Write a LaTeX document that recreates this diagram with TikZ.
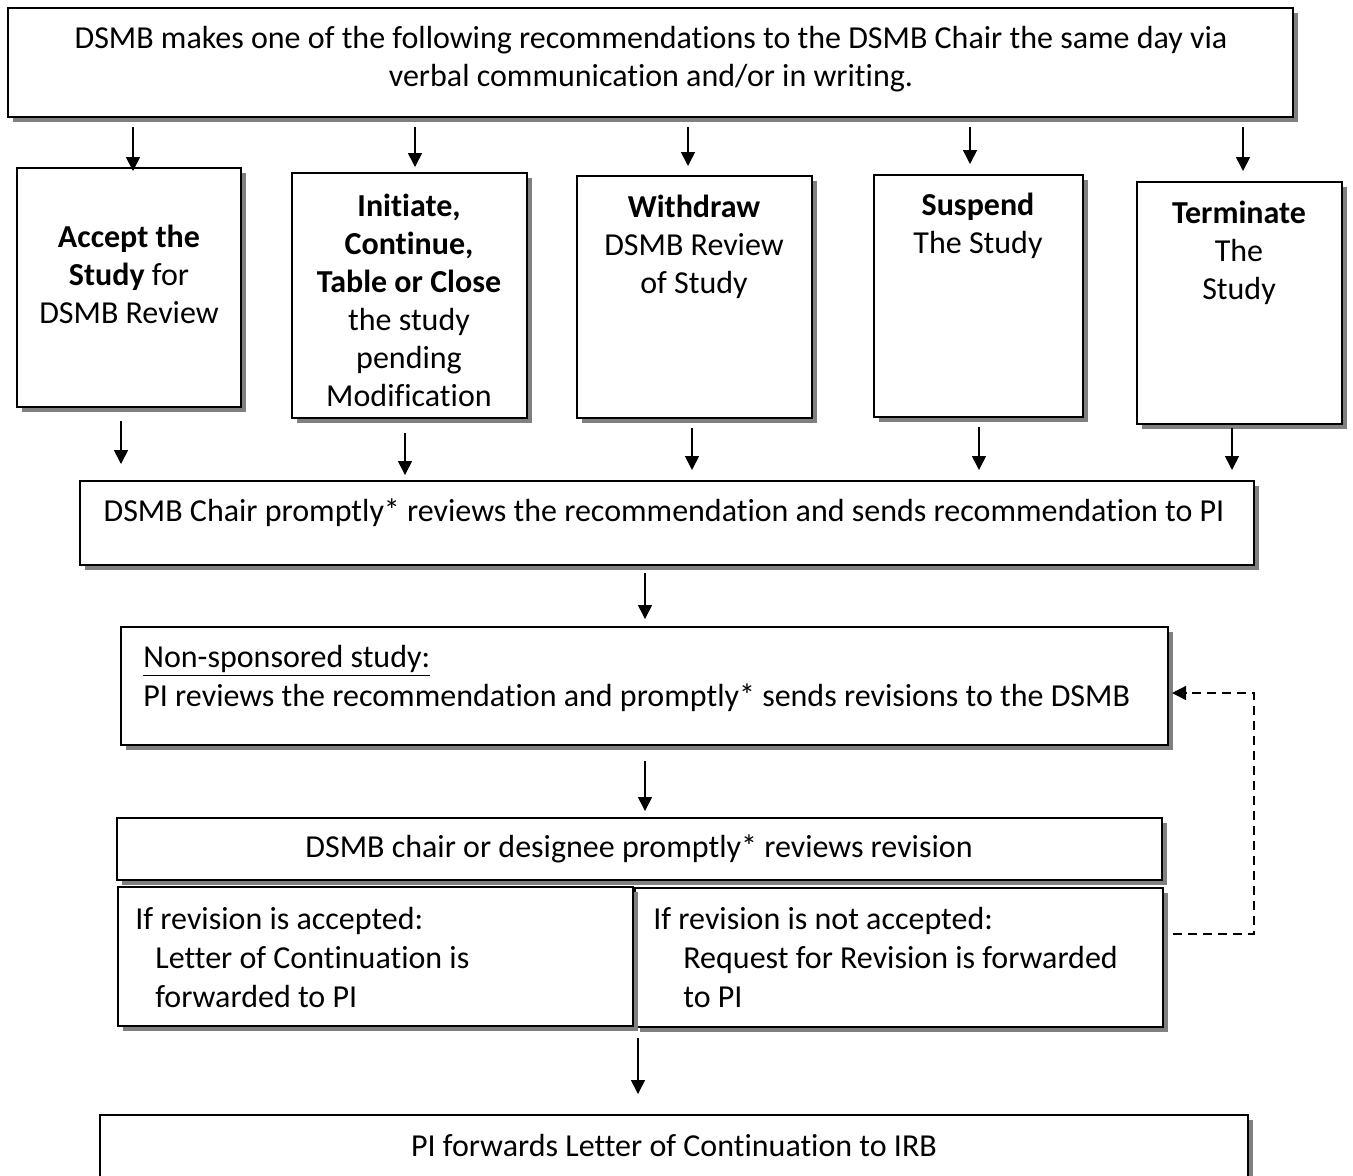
\documentclass[tikz,border=0pt]{standalone}
\usepackage{fontspec}
\setmainfont{Carlito}[Ligatures=NoCommon]
\usetikzlibrary{shadows,fit,arrows.meta}
\begin{document}
\begin{tikzpicture}[x=0.5pt,y=-0.5pt,
  box/.style={draw=black, line width=1pt, fill=white, inner sep=0pt,
    drop shadow={shadow xshift=2.6pt, shadow yshift=-2.6pt, fill=black!50, opacity=1}},
  txt/.style={inner sep=0pt, font=\fontsize{16}{19}\selectfont, align=center},
  ltxt/.style={inner sep=0pt, font=\fontsize{16}{19.5}\selectfont, align=left, anchor=west},
  arr/.style={line width=0.8pt, -{Triangle[length=7pt,width=7pt]}},
  darr/.style={line width=0.75pt, dash pattern=on 4.5pt off 3pt, -{Triangle[length=7pt,width=7pt]}}]
\clip (0,0) rectangle (1353,1175);
\fill[white] (0,0) rectangle (1353,1175);
% boxes
\node[box, fit={(8,8) (1293,117)}] (top) {};
\node[box, fit={(17,168) (241,407)}] (b1) {};
\node[box, fit={(292,173) (527,418)}] (b2) {};
\node[box, fit={(577,176) (812,418)}] (b3) {};
\node[box, fit={(874,175) (1083,417)}] (b4) {};
\node[box, fit={(1137,182) (1342,424)}] (b5) {};
\node[box, fit={(80,481) (1254,565)}] (chair) {};
\node[box, fit={(121,627) (1168,745)}] (nons) {};
\node[box, fit={(117,818) (1162,880)}] (desig) {};
\node[box, fit={(635,888) (1163,1027)}] (nacc) {};
\node[box, fit={(118,887) (633,1026)}] (acc) {};
\node[box, fit={(100,1115) (1248,1195)}] (fwd) {};
% texts
\node[txt] (ttop) at (651,59) {DSMB makes one of the following recommendations to the DSMB Chair the same day via\\verbal communication and/or in writing.};
\node[txt] (t1) at (129,274) {\textbf{Accept the}\\\textbf{Study} for\\DSMB Review};
\node[txt] (t2) at (409,300) {\textbf{Initiate,}\\\textbf{Continue,}\\\textbf{Table or Close}\\the study\\pending\\Modification};
\node[txt] (t3) at (694,247) {\textbf{Withdraw}\\DSMB Review\\of Study};
\node[txt] (t4) at (978,226) {\textbf{Suspend}\\The Study};
\node[txt] (t5) at (1239,253) {\textbf{Terminate}\\The\\Study};
\node[txt] (tchair) at (664,513) {DSMB Chair promptly* reviews the recommendation and sends recommendation to PI};
\node[ltxt] (tnons) at (143,678) {\underline{Non-sponsored study:}\\PI reviews the recommendation and promptly* sends revisions to the DSMB};
\node[txt] (tdesig) at (639,849) {DSMB chair or designee promptly* reviews revision};
\node[ltxt] (tacc) at (135,957) {If revision is accepted:\\\hspace*{10pt}Letter of Continuation is\\\hspace*{10pt}forwarded to PI};
\node[ltxt] (tnacc) at (653,957) {If revision is not accepted:\\\hspace*{15pt}Request for Revision is forwarded\\\hspace*{15pt}to PI};
\node[txt] (tfwd) at (674,1145) {PI forwards Letter of Continuation to IRB};
% x positions
\coordinate (x1) at (133,0);
\coordinate (x2) at (415,0);
\coordinate (x3) at (688,0);
\coordinate (x4) at (970,0);
\coordinate (x5) at (1243,0);
\coordinate (y1) at (121,0);
\coordinate (y2) at (405,0);
\coordinate (y3) at (692,0);
\coordinate (y4) at (979,0);
\coordinate (y5) at (1232,0);
\coordinate (xm) at (645,0);
\coordinate (xb) at (638,0);
% arrows top -> boxes
\draw[arr, shorten <=4.5pt, shorten >=-2pt] (x1 |- top.south) -- (x1 |- b1.north);
\draw[arr, shorten <=4.5pt, shorten >=2.5pt] (x2 |- top.south) -- (x2 |- b2.north);
\draw[arr, shorten <=4.5pt, shorten >=4.5pt] (x3 |- top.south) -- (x3 |- b3.north);
\draw[arr, shorten <=4.5pt, shorten >=5pt] (x4 |- top.south) -- (x4 |- b4.north);
\draw[arr, shorten <=4.5pt, shorten >=5pt] (x5 |- top.south) -- (x5 |- b5.north);
% boxes -> chair
\draw[arr, shorten <=6.5pt, shorten >=8pt] (y1 |- b1.south) -- (y1 |- chair.north);
\draw[arr, shorten <=7pt, shorten >=2.5pt] (y2 |- b2.south) -- (y2 |- chair.north);
\draw[arr, shorten <=4.5pt, shorten >=5pt] (y3 |- b3.south) -- (y3 |- chair.north);
\draw[arr, shorten <=4.5pt, shorten >=5pt] (y4 |- b4.south) -- (y4 |- chair.north);
\draw[arr, shorten <=1.5pt, shorten >=5pt] (y5 |- b5.south) -- (y5 |- chair.north);
% vertical chain
\draw[arr, shorten <=3.5pt, shorten >=3.5pt] (xm |- chair.south) -- (xm |- nons.north);
\draw[arr, shorten <=7.5pt, shorten >=3pt] (xm |- nons.south) -- (xm |- desig.north);
\draw[arr, shorten <=5.5pt, shorten >=10pt] (xb |- acc.south) -- (xb |- fwd.north);
% dashed feedback
\coordinate (dstart) at (1173,934);
\coordinate (dend) at (1172,693);
\coordinate (dcorner) at (1254,0);
\draw[darr] (dstart) -- (dcorner |- dstart) -- (dcorner |- dend) -- (dend);
\end{tikzpicture}
\end{document}
